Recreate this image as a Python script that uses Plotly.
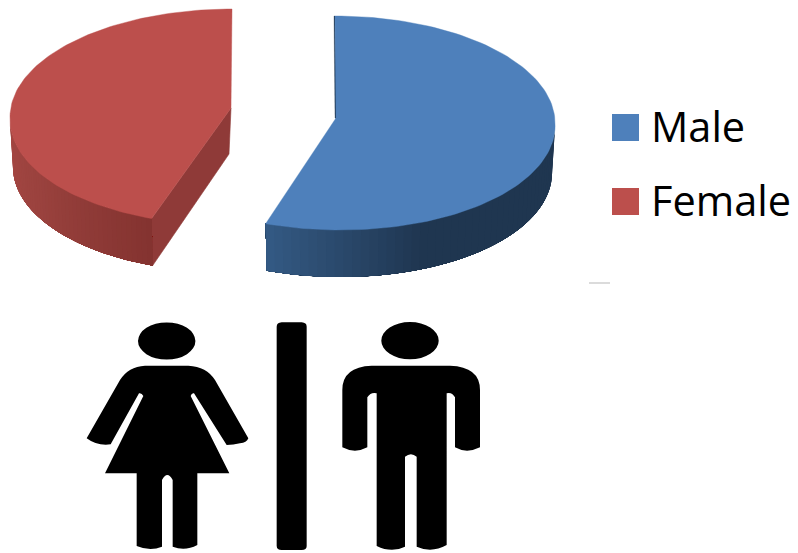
import math
import re
import plotly.graph_objects as go

# Chart data
categories = ["Male", "Female"]
shares = [55.5, 44.5]

WIDTH, HEIGHT = 798, 553
TOP_COLORS = {"Male": "#4e80bb", "Female": "#bc4f4c"}
DEPTH = 47
STRIPS = 48

# Placement of each exploded slice: rim ellipse, apex, sweep direction, perspective lean
# of the near rim, side-wall colour ramp over the sweep, and colour of the cut face.
SLICE_STYLE = {
    "Male": dict(cx=335, cy=123, rx=220, ry=107, apex=(336, 118), direction=1, lean=5.5,
                 ramp=[(0.0, "#1f3650"), (0.62, "#1f3650"), (1.0, "#345a84")], face="#1f3650"),
    "Female": dict(cx=232, cy=117, rx=222, ry=108, apex=(231, 108), direction=-1, lean=-5.5,
                   ramp=[(0.0, "#a64743"), (0.45, "#9a423e"), (1.0, "#843330")], face="#8f3a38"),
}


def ramp_color(ramp, t):
    for (t0, c0), (t1, c1) in zip(ramp, ramp[1:]):
        if t <= t1:
            f = (t - t0) / (t1 - t0)
            rgb = [int(c0[i:i + 2], 16) + f * (int(c1[i:i + 2], 16) - int(c0[i:i + 2], 16)) for i in (1, 3, 5)]
            return "rgb({:.0f},{:.0f},{:.0f})".format(*rgb)
    return ramp[-1][1]


def rim(style, theta, depth=0):
    # theta runs from 12 o'clock along the slice; the lower rim narrows slightly.
    rx = style["rx"] - (3 if depth else 0)
    a = math.radians(theta) * style["direction"]
    near = max(0.0, -math.cos(a))
    x = style["cx"] + rx * math.sin(a) + style["lean"] * near
    return x, style["cy"] - style["ry"] * math.cos(a) + depth


def polygon(points, color, width=0.6):
    return go.Scatter(
        x=[p[0] for p in points] + [points[0][0]],
        y=[p[1] for p in points] + [points[0][1]],
        mode="lines", fill="toself", fillcolor=color,
        line=dict(color=color, width=width),
        hoverinfo="skip", showlegend=False,
    )


fig = go.Figure()
total = sum(shares)

for name, value in zip(categories, shares):
    st = SLICE_STYLE[name]
    sweep = value / total * 360
    apex = st["apex"]
    corner = rim(st, sweep)
    corner_low = rim(st, sweep, DEPTH)

    # Cut face toward the viewer
    if name == "Female":
        fig.add_trace(polygon([apex, corner, corner_low, (apex[0] - 2, apex[1] + DEPTH - 1)], st["face"]))
    else:
        start = rim(st, 0)
        fig.add_trace(polygon([(start[0] - 1, start[1]), (apex[0] - 1, apex[1]), (apex[0] + 1, apex[1] + 1), start], st["face"], 0.3))

    # Outer wall: each band runs on to the slice's end, so the next one paints over it without seams
    for i in range(STRIPS):
        a0 = 90 + (sweep - 90) * i / STRIPS
        span = [a0 + (sweep - a0) * k / 30 for k in range(31)]
        band = [rim(st, a) for a in span] + [rim(st, a, DEPTH) for a in reversed(span)]
        fig.add_trace(polygon(band, ramp_color(st["ramp"], (i + 0.5) / STRIPS), 0))

    # Top surface
    steps = 120
    top = [apex] + [rim(st, sweep * k / steps) for k in range(steps + 1)]
    fig.add_trace(polygon(top, TOP_COLORS[name], 0.4))


# Pictogram outlines, authored on a 3x grid and placed by an origin offset
def place(path, ox, oy):
    nums = iter(range(10 ** 6))

    def convert(m):
        v = float(m.group())
        return f"{(ox if next(nums) % 2 == 0 else oy) + v / 3:.2f}"

    return re.sub(r"\d+(?:\.\d+)?", convert, path)


WOMAN = ("M225 167 L355 167 Q410 170 435 210 L535 385 Q530 398 510 400 Q490 405 470 405 "
         "L372 250 Q365 248 362 258 L478 490 L382 490 L382 705 Q345 725 308 710 L308 510 "
         "Q292 480 276 510 L276 710 Q240 725 200 708 L200 490 L105 490 L220 258 Q215 248 207 250 "
         "L122 403 Q80 408 50 385 L150 210 Q175 170 225 167 Z")
MAN = ("M320 167 L555 167 Q645 170 645 240 L645 412 Q605 432 570 412 L570 262 Q560 245 545 250 "
       "L545 705 Q500 730 455 710 L455 440 Q438 425 420 440 L420 710 Q380 730 335 708 L335 250 "
       "Q318 245 307 262 L307 412 Q270 432 232 412 L232 240 Q232 170 320 167 Z")
DIVIDER = "M50 37 L110 37 Q125 38 125 50 L125 708 Q125 720 110 720 L50 720 Q35 720 35 708 L35 50 Q35 38 50 37 Z"

shapes = []
for path, ox, oy in [(WOMAN, 70, 310), (MAN, 265, 310), (DIVIDER, 265, 310)]:
    shapes.append(dict(type="path", path=place(path, ox, oy), xref="x", yref="y",
                       fillcolor="#000000", line=dict(width=0)))
for cx, cy in [(166.7, 341), (410, 340.7)]:
    shapes.append(dict(type="circle", xref="x", yref="y", x0=cx - 28.7, x1=cx + 28.7,
                       y0=cy - 18.6, y1=cy + 18.6, fillcolor="#000000", line=dict(width=0)))
# Faint stray mark beneath the key
shapes.append(dict(type="line", xref="x", yref="y", x0=589, x1=610, y0=283, y1=283,
                   line=dict(color="#cfcfcf", width=1.5)))

# Key: square swatches with their labels
key_y = [127.5, 201.5]
fig.add_trace(go.Scatter(
    x=[625.5, 625.5], y=key_y, mode="markers",
    marker=dict(symbol="square", size=27, color=[TOP_COLORS[c] for c in categories], line=dict(width=0)),
    hoverinfo="skip", showlegend=False,
))
annotations = [
    dict(x=649, y=y - 2, xref="x", yref="y", text=c, showarrow=False, xanchor="left", yanchor="middle",
         font=dict(family="Open Sans", size=41.5, color="#000000"))
    for c, y in zip(categories, key_y)
]

fig.update_layout(
    width=WIDTH, height=HEIGHT,
    margin=dict(l=0, r=0, t=0, b=0),
    paper_bgcolor="white", plot_bgcolor="white",
    showlegend=False,
    xaxis=dict(range=[0, WIDTH], visible=False, fixedrange=True),
    yaxis=dict(range=[HEIGHT, 0], visible=False, fixedrange=True),
    shapes=shapes, annotations=annotations,
)

fig.write_html("out.html", config={"displayModeBar": False})
